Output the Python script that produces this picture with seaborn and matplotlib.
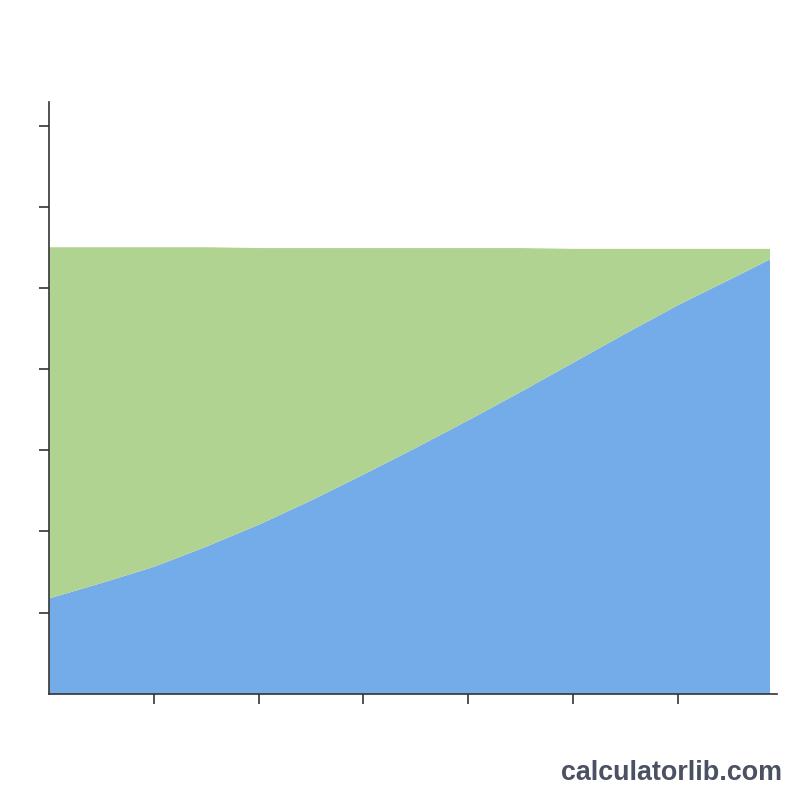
import matplotlib
matplotlib.use('Agg')
import matplotlib.pyplot as plt
import seaborn as sns

# Values (no tick labels shown there)
x_vals = [0, 0.5, 1.0, 1.5, 2.0, 2.5, 3.0, 3.5, 4.0, 4.5, 5.0, 5.5, 6.0, 6.5, 6.87]
blue_vals = [1.18, 1.37, 1.57, 1.82, 2.09, 2.39, 2.71, 3.04, 3.38, 3.73, 4.09, 4.45, 4.80, 5.12, 5.36]
green_vals = [4.33, 4.14, 3.94, 3.69, 3.41, 3.11, 2.79, 2.46, 2.12, 1.77, 1.40, 1.04, 0.69, 0.37, 0.13]
x_ticks = [1, 2, 3, 4, 5, 6]
y_ticks = [1, 2, 3, 4, 5, 6, 7]

sns.set_style("ticks")
plt.rcParams['font.family'] = ['Liberation Sans', 'DejaVu Sans']

fig = plt.figure(figsize=(8, 8), dpi=100)
ax = fig.add_axes([0.061, 0.133, 0.91, 0.739])

ax.stackplot(x_vals, blue_vals, green_vals,
             colors=['#73ace8', '#b0d391'], linewidth=0)

ax.set_xlim(0, 6.94)
ax.set_ylim(0, 7.29)
ax.set_xticks(x_ticks)
ax.set_yticks(y_ticks)
ax.set_xticklabels([])
ax.set_yticklabels([])
ax.tick_params(axis='both', direction='out', length=7, width=1.2, color='#333333')

sns.despine(ax=ax)
for side in ['left', 'bottom']:
    ax.spines[side].set_color('#333333')
    ax.spines[side].set_linewidth(1.2)

# watermark bottom right
fig.text(0.978, 0.025, 'calculatorlib.com', ha='right', va='baseline',
         fontsize=19.4, fontweight='bold', color='#4b5162')

fig.savefig('out.png', dpi=100, facecolor='white')
